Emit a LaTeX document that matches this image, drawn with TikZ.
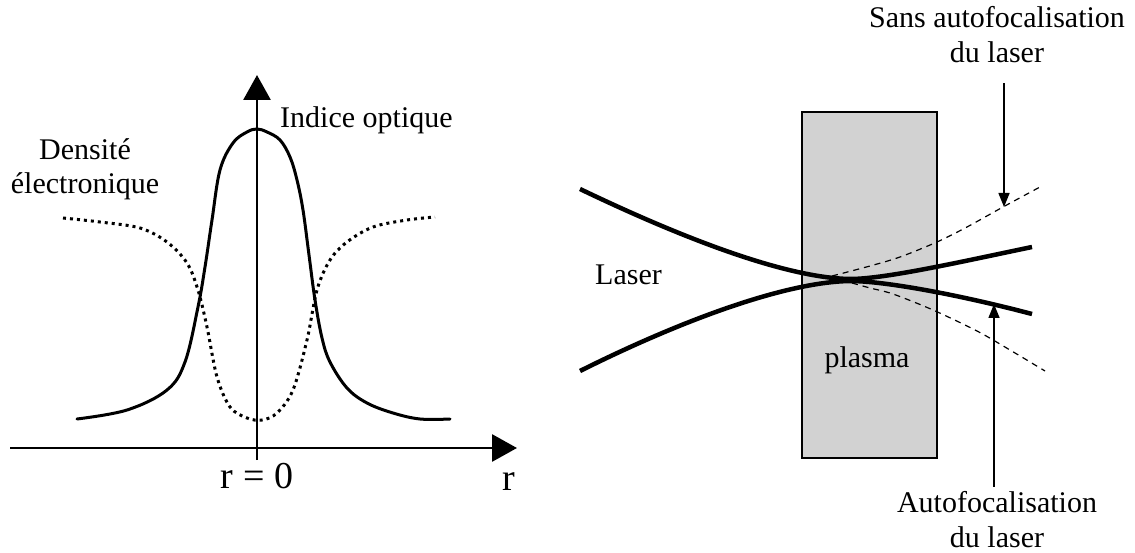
\documentclass[tikz,border=0pt]{standalone}
\usepackage{fontspec}
\setmainfont{Liberation Serif}
\usetikzlibrary{arrows.meta}
\definecolor{plasmagray}{RGB}{210,210,210}
\begin{document}
\begin{tikzpicture}[x=1pt,y=-1pt,
  lbl/.style={inner sep=0pt, font=\fontsize{30}{35}\selectfont, align=center},
  biglbl/.style={inner sep=0pt, font=\fontsize{38}{44}\selectfont},
  axisline/.style={line width=2.8pt, -{Triangle[length=25pt,width=27pt]}},
  indexcurve/.style={line width=3pt, line join=round, line cap=round},
  densitycurve/.style={line width=3pt, dash pattern=on 3pt off 4pt},
  beam/.style={line width=4.5pt, line join=round},
  freebeam/.style={line width=1.2pt, dash pattern=on 6pt off 5pt},
  pointer/.style={line width=1.5pt, -{Triangle[length=14pt,width=11pt]}}]
\useasboundingbox (0,0) rectangle (1135,553);
% ---------- left panel ----------
\coordinate (xa0) at (10,448);
\coordinate (xa1) at (517,448);
\coordinate (ya0) at (257,460);
\coordinate (ya1) at (257,75);
\draw[indexcurve] plot[smooth, tension=0.6] coordinates {(77,419) (127,410) (167,390) (185,362) (198,307) (205,267) (212,220) (220,170) (233,143) (247,132) (257,129) (267,132) (280,140) (290,157) (297,180) (303,210) (309,255) (315,300) (322,338) (330,362) (347,388) (367,403) (393,413) (420,419) (450,419)};
\draw[densitycurve] plot[smooth, tension=0.55] coordinates {(63,218) (100,222) (140,228) (167,242) (187,263) (198,290) (207,327) (217,377) (230,407) (247,418) (262,420) (277,413) (293,390) (307,340) (317,290) (330,260) (347,242) (373,227) (407,220) (435,217)};
\draw[axisline] (xa0) -- (xa1);
\draw[axisline] (ya0) -- (ya1);
\node[lbl, anchor=base west] (indice) at (280,128) {Indice optique};
\node[lbl, font=\fontsize{30}{34}\selectfont] (densite) at (85,169) {Densité\\électronique};
\node[biglbl, anchor=base] (rzero) at (257,488) {r = 0};
\node[biglbl, anchor=base west] (raxis) at (502,490) {r};
% ---------- right panel ----------
\node[draw, line width=1.6pt, fill=plasmagray, minimum width=135pt, minimum height=346pt, inner sep=0pt] (plasmabox) at (869.5,285) {};
\node[lbl, anchor=base] (plasmalbl) at (867,367) {plasma};
\node[lbl, anchor=base west] (laser) at (595,285) {Laser};
\draw[beam] (580,189) .. controls (680,237) and (785,278) .. (850,279) .. controls (885,279) and (960,262) .. (1032,247);
\draw[beam] (580,371) .. controls (680,321) and (785,282) .. (850,281) .. controls (885,281) and (960,295) .. (1032,314);
\draw[freebeam] plot[smooth, tension=0.5] coordinates {(832,276) (870,266) (900,257) (937,242) (967,227) (1003,207) (1040,187)};
\draw[freebeam] plot[smooth, tension=0.5] coordinates {(852,283) (870,288) (893,294) (933,310) (977,331) (1010,350) (1045,371)};
\node[lbl] (sans) at (997,35) {Sans autofocalisation\\du laser};
\node[lbl] (autof) at (997,520) {Autofocalisation\\du laser};
\coordinate (tipA) at (1004,207);
\coordinate (tipB) at (994,304);
\draw[pointer] ([yshift=-20pt]sans.south -| tipA) -- (tipA);
\draw[pointer] ([yshift=5pt]autof.north -| tipB) -- (tipB);
\end{tikzpicture}
\end{document}
